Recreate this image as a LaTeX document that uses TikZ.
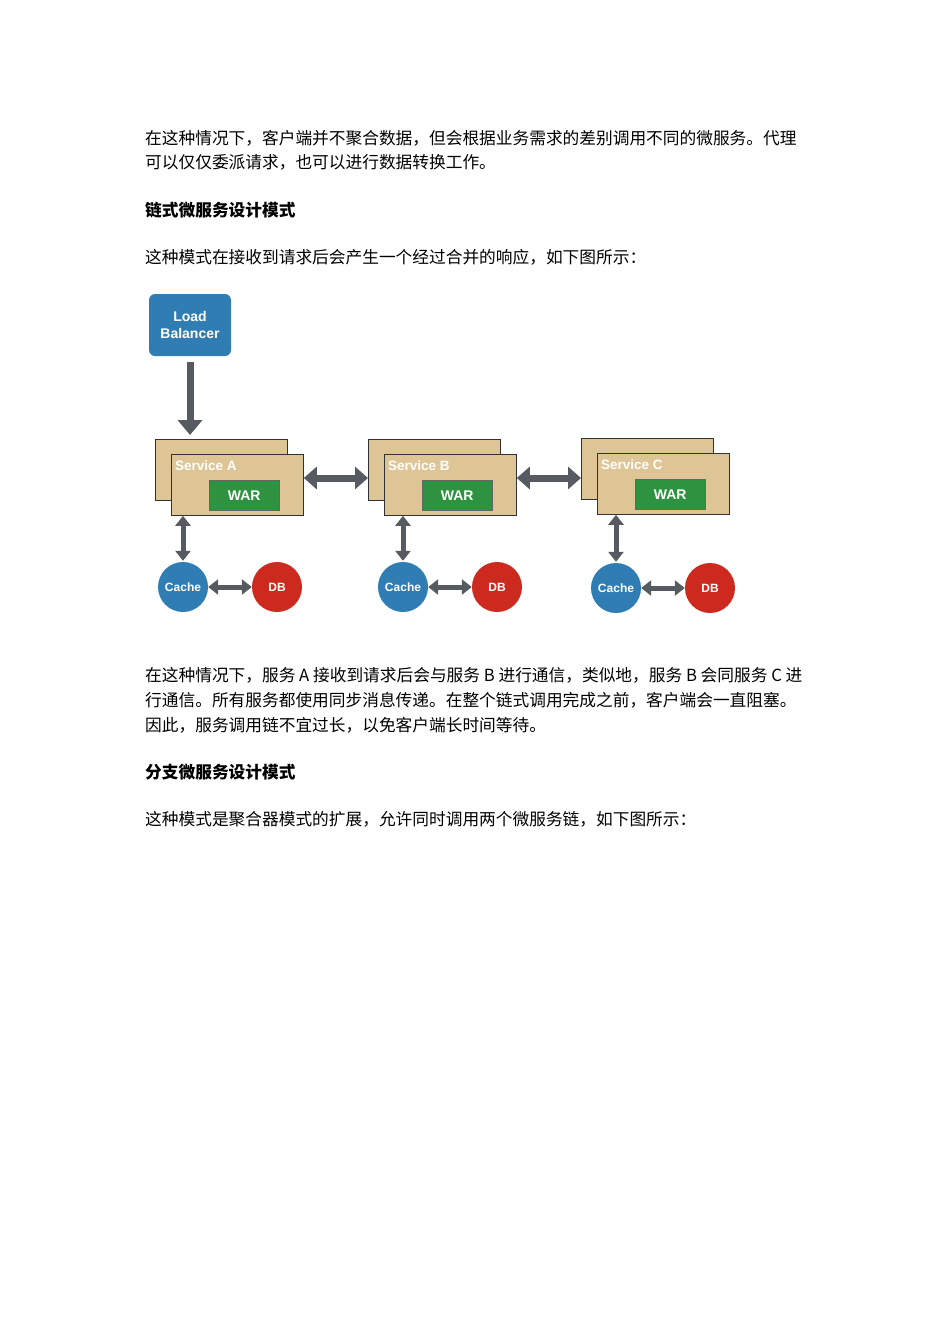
\documentclass[tikz,border=0pt]{standalone}
\usepackage{fontspec}
\setmainfont{Liberation Sans}
\newfontfamily\cjk{Noto Sans CJK SC}
\usetikzlibrary{arrows.meta}
\definecolor{lbblue}{HTML}{2F7DB3}
\definecolor{cacheblue}{HTML}{2F7DB3}
\definecolor{dbred}{HTML}{CC2A1E}
\definecolor{tan}{HTML}{DEC595}
\definecolor{wargreen}{HTML}{2E9340}
\definecolor{arr}{HTML}{565B61}
\begin{document}
\begin{tikzpicture}[x=1pt,y=-1pt,
  para/.style={anchor=west,inner sep=0pt,font=\cjk\fontsize{16.7}{19}\selectfont},
  head/.style={para,font=\cjk\bfseries\fontsize{16.7}{19}\selectfont},
  svc/.style={draw=black!80,line width=0.8pt,fill=tan,minimum width=132pt,minimum height=61pt,inner sep=0pt},
  war/.style={draw=black!60,fill=wargreen,minimum width=70pt,minimum height=30pt,text=white,font=\bfseries\fontsize{14}{16}\selectfont,inner sep=0pt},
  cir/.style={circle,minimum size=50pt,inner sep=0pt,text=white,font=\bfseries\fontsize{12}{14}\selectfont},
  big/.style={draw=arr,line width=7pt,{Triangle[width=22pt,length=13pt]}-{Triangle[width=22pt,length=13pt]}},
  bigs/.style={draw=arr,line width=7pt,-{Triangle[width=24pt,length=15pt]}},
  sml/.style={draw=arr,line width=5pt,{Triangle[width=15pt,length=10pt]}-{Triangle[width=15pt,length=10pt]}}]
\useasboundingbox[fill=white] (0,0) rectangle (950,1344);
\node[para] (t1) at (145,138) {在这种情况下，客户端并不聚合数据，但会根据业务需求的差别调用不同的微服务。代理};
\node[para] (t2) at (145,162) {可以仅仅委派请求，也可以进行数据转换工作。};
\node[head] (h1) at (145,210) {链式微服务设计模式};
\node[para] (t3) at (145,257) {这种模式在接收到请求后会产生一个经过合并的响应，如下图所示：};
\node[para] (t4) at (145,675) {在这种情况下，服务 A 接收到请求后会与服务 B 进行通信，类似地，服务 B 会同服务 C 进};
\node[para] (t5) at (145,700) {行通信。所有服务都使用同步消息传递。在整个链式调用完成之前，客户端会一直阻塞。};
\node[para] (t6) at (145,725) {因此，服务调用链不宜过长，以免客户端长时间等待。};
\node[head] (h2) at (145,772) {分支微服务设计模式};
\node[para] (t7) at (145,819) {这种模式是聚合器模式的扩展，允许同时调用两个微服务链，如下图所示：};

\node[fill=lbblue,rounded corners=6pt,minimum width=82pt,minimum height=62pt,text=white,align=center,font=\bfseries\fontsize{14}{17}\selectfont] (lb) at (190,325) {Load\\Balancer};

\foreach \n/\x/\y/\l in {a/155/439/A,b/368/439/B,c/581/438/C}{
  \node[svc,anchor=north west] (\n back) at (\x,\y) {};
  \node[svc,anchor=north west] (\n) at (\x+16,\y+15) {};
  \node[anchor=west,text=white,font=\bfseries\fontsize{13.5}{15}\selectfont,inner sep=0pt] (\n lab) at (\x+20,\y+27) {Service \l};
  \node[war,anchor=north west] (\n war) at (\x+54,\y+41) {WAR};
}
\foreach \n/\cx/\cy in {a/183/587,b/403/587,c/616/588}{
  \node[cir,fill=cacheblue] (\n cache) at (\cx,\cy) {Cache};
  \node[cir,fill=dbred] (\n db) at (\cx+94,\cy) {DB};
  \draw[sml] (\n cache) -- (\n db);
  \draw[sml] (\n cache.north) ++(0,-1) coordinate (\n ct) (\n ct) -- (\n ct |- \n.south);
}
\coordinate (lbt) at (190,435);
\draw[bigs] (lb.south) ++(0,6) -- (lbt);
\draw[big] (a.east |- 0,478) -- (bback.west |- 0,478);
\draw[big] (b.east |- 0,478) -- (cback.west |- 0,478);
\end{tikzpicture}
\end{document}
